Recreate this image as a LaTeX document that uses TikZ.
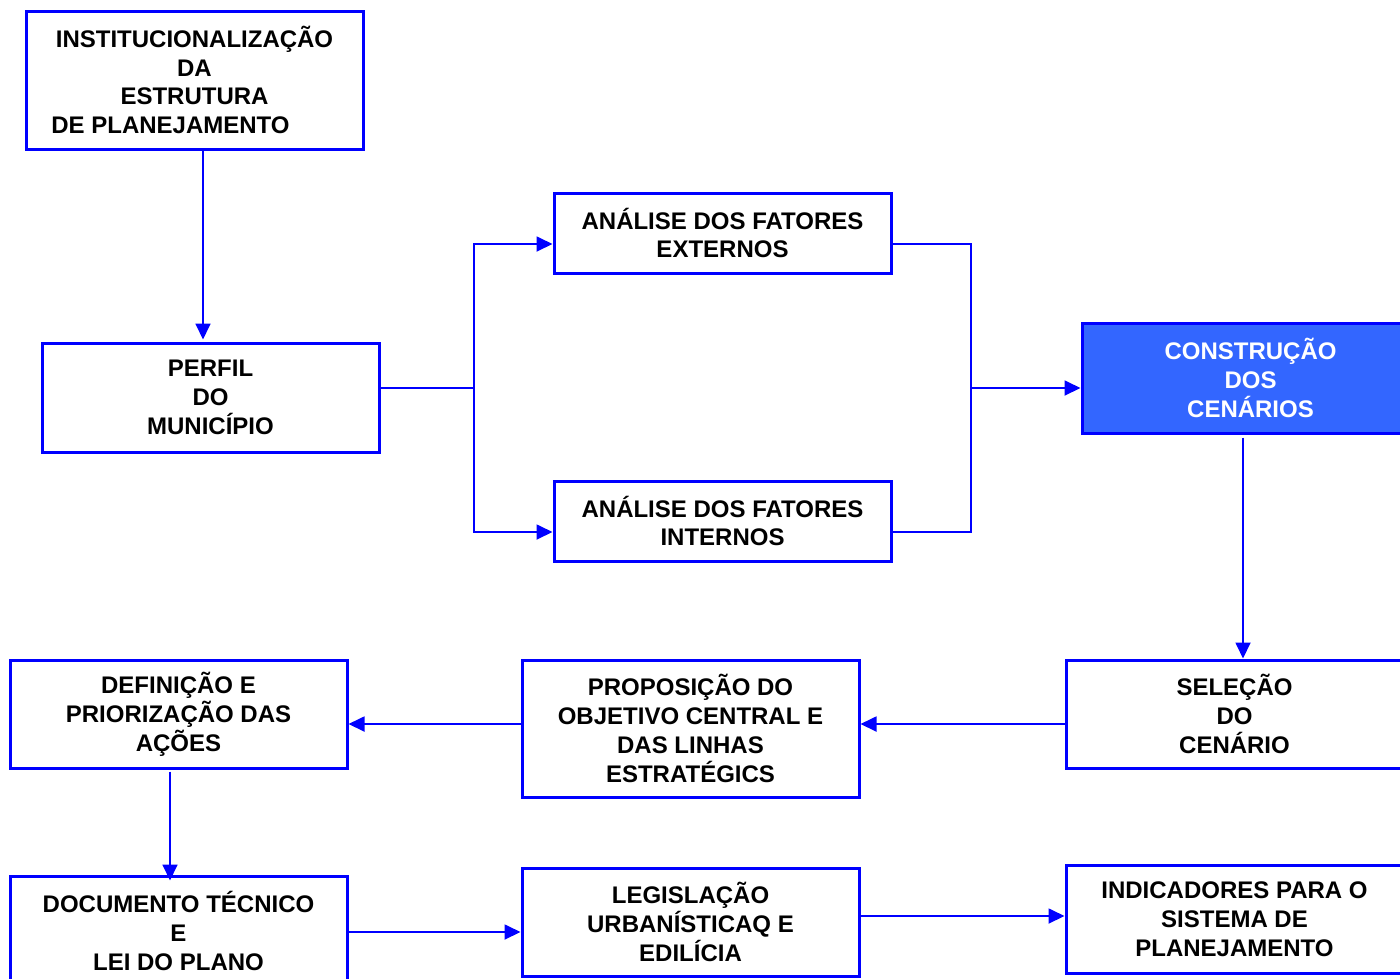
\documentclass[tikz,border=0pt]{standalone}
\usepackage{fontspec}
\setmainfont{Liberation Sans}
\usetikzlibrary{arrows.meta}
\definecolor{lineblue}{RGB}{0,0,255}
\definecolor{fillblue}{RGB}{51,102,255}
\begin{document}
\begin{tikzpicture}[x=1pt,y=-1pt,
  box/.style={draw=lineblue,line width=3pt,minimum width=337pt,inner sep=0pt,align=center,
    font=\fontsize{24}{28.8}\selectfont\bfseries},
  conn/.style={draw=lineblue,line width=1.8pt},
  arr/.style={conn,-{Triangle[length=16pt,width=15pt]}}]
\useasboundingbox (0,0) rectangle (1400,978);
\clip (0,0) rectangle (1400,978);

\node[box,minimum height=138pt] (inst) at (194.5,80) {INSTITUCIONALIZAÇÃO\\DA\\ESTRUTURA\\DE PLANEJAMENTO\rule{48pt}{0pt}};
\node[box,minimum height=109pt] (perfil) at (210.5,397.5) {PERFIL\\DO\\MUNICÍPIO};
\node[box,minimum height=80pt] (ext) at (722.5,233) {ANÁLISE DOS FATORES\\EXTERNOS};
\node[box,minimum height=80pt] (int) at (722.5,521) {ANÁLISE DOS FATORES\\INTERNOS};
\node[box,minimum height=110pt,fill=fillblue,text=white] (cons) at (1250.5,378) {CONSTRUÇÃO\\DOS\\CENÁRIOS};
\node[box,minimum height=108pt] (sel) at (1234.5,714) {SELEÇÃO\\DO\\CENÁRIO};
\node[box,minimum height=137pt] (prop) at (690.5,728.5) {PROPOSIÇÃO DO\\OBJETIVO CENTRAL E\\DAS LINHAS\\ESTRATÉGICS};
\node[box,minimum height=108pt] (def) at (178.5,714) {DEFINIÇÃO E\\PRIORIZAÇÃO DAS\\AÇÕES};
\node[box,minimum height=110pt] (doc) at (178.5,931) {DOCUMENTO TÉCNICO\\E\\LEI DO PLANO};
\node[box,minimum height=108pt] (leg) at (690.5,922) {LEGISLAÇÃO\\URBANÍSTICAQ E\\EDILÍCIA};
\node[box,minimum height=108pt] (ind) at (1234.5,919) {INDICADORES PARA O\\SISTEMA DE\\PLANEJAMENTO};

\coordinate (j1) at (474,388);
\coordinate (j2) at (971,388);

\draw[arr] ([xshift=8.5pt]inst.south) -- ([xshift=8.5pt,yshift=2pt]inst.south |- perfil.north);
\draw[conn] ([yshift=9.5pt]perfil.east) -- (j1);
\draw[arr] (j1) |- ([yshift=-11pt]ext.west);
\draw[arr] (j1) |- ([yshift=-11pt]int.west);
\draw[conn] ([yshift=-11pt]ext.east) -| (j2);
\draw[conn] ([yshift=-11pt]int.east) -| (j2);
\draw[arr] (j2) -- ([yshift=-10pt]cons.west);
\draw[arr] ([xshift=-7.5pt,yshift=-3pt]cons.south) -- ([xshift=-7.5pt]cons.south |- sel.north);
\draw[arr] ([yshift=-10pt]sel.west) -- ([yshift=-10pt]sel.west -| prop.east);
\draw[arr] ([yshift=4.5pt]prop.west) -- ([yshift=4.5pt]prop.west -| def.east);
\draw[arr] ([xshift=-8.5pt,yshift=-2pt]def.south) -- ([xshift=-8.5pt,yshift=-6pt]def.south |- doc.north);
\draw[arr] ([yshift=-1pt]doc.east) -- ([yshift=-1pt]doc.east -| leg.west);
\draw[arr] ([yshift=6pt]leg.east) -- ([yshift=6pt]leg.east -| ind.west);
\end{tikzpicture}
\end{document}
